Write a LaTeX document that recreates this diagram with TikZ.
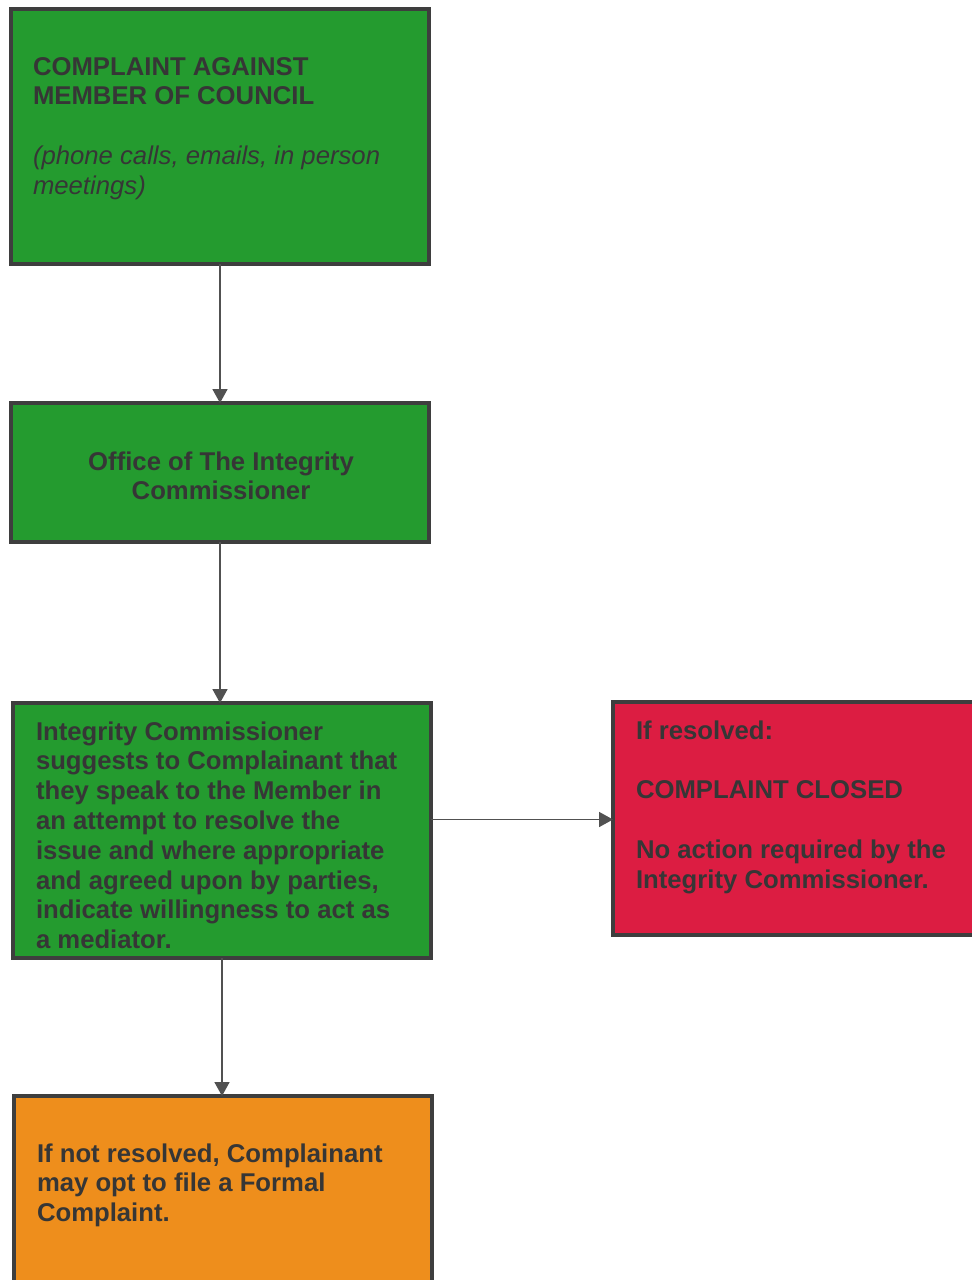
\documentclass[tikz,border=0pt]{standalone}
\usepackage{fontspec}
\setmainfont{Liberation Sans}
\usetikzlibrary{arrows.meta}
\definecolor{gfill}{HTML}{249B2F}
\definecolor{rfill}{HTML}{DC1D42}
\definecolor{ofill}{HTML}{EE8E1C}
\definecolor{bord}{HTML}{3E3E3E}
\definecolor{txt}{HTML}{363636}
\newcommand{\tstrut}{\rule{0pt}{20pt}}
\tikzset{
  box/.style={draw=bord, line width=4pt, rectangle, inner sep=0pt, outer sep=0pt, anchor=north west},
  btext/.style={inner sep=0pt, outer sep=0pt, text=txt, align=left, anchor=north west,
    font=\fontsize{25.7pt}{29.8pt}\selectfont\bfseries},
  arr/.style={draw=bord!90, line width=1.7pt, -{Triangle[length=14pt,width=15pt]}}
}
\begin{document}
\begin{tikzpicture}[x=1pt,y=-1pt]
\useasboundingbox (0,0) rectangle (972,1280);
\clip (0,0) rectangle (972,1280);
\fill[white] (0,0) rectangle (972,1280);
% boxes
\node[box, fill=gfill, minimum width=418pt, minimum height=255pt] (b1) at (11,9) {};
\node[box, fill=gfill, minimum width=418pt, minimum height=139pt] (b2) at (11,403) {};
\node[box, fill=gfill, minimum width=418pt, minimum height=255pt] (b3) at (13,703) {};
\node[box, fill=rfill, minimum width=372pt, minimum height=233pt] (b5) at (613,702) {};
\node[box, fill=ofill, minimum width=418pt, minimum height=200pt] (b4) at (14,1096) {};
% texts
\node[btext] (t1) at (33,55) {\tstrut COMPLAINT AGAINST\\MEMBER OF COUNCIL\\[29.8pt]
  {\mdseries\itshape\tstrut(phone calls, emails, in person}\\{\mdseries\itshape meetings)}};
\node[btext, align=center, anchor=north] (t2) at (221,450) {\tstrut Office of The Integrity\\Commissioner};
\node[btext] (t3) at (36,720) {\tstrut Integrity Commissioner\\suggests to Complainant that\\they speak to the Member in\\an attempt to resolve the\\issue and where appropriate\\and agreed upon by parties,\\indicate willingness to act as\\a mediator.};
\node[btext] (t5) at (636,719) {\tstrut If resolved:\\[29.8pt]COMPLAINT CLOSED\\[29.8pt]No action required by the\\Integrity Commissioner.};
\node[btext] (t4) at (37,1142) {\tstrut If not resolved, Complainant\\may opt to file a Formal\\Complaint.};
% connectors
\draw[arr] (b1.south) -- (b1.south |- b2.north);
\draw[arr] (b2.south) -- (b2.south |- b3.north);
\draw[arr] (b3.south) -- (b3.south |- b4.north);
\draw[arr] ([yshift=-1pt]b3.east |- b5.west) -- ([yshift=-1pt]b5.west);
\end{tikzpicture}
\end{document}
